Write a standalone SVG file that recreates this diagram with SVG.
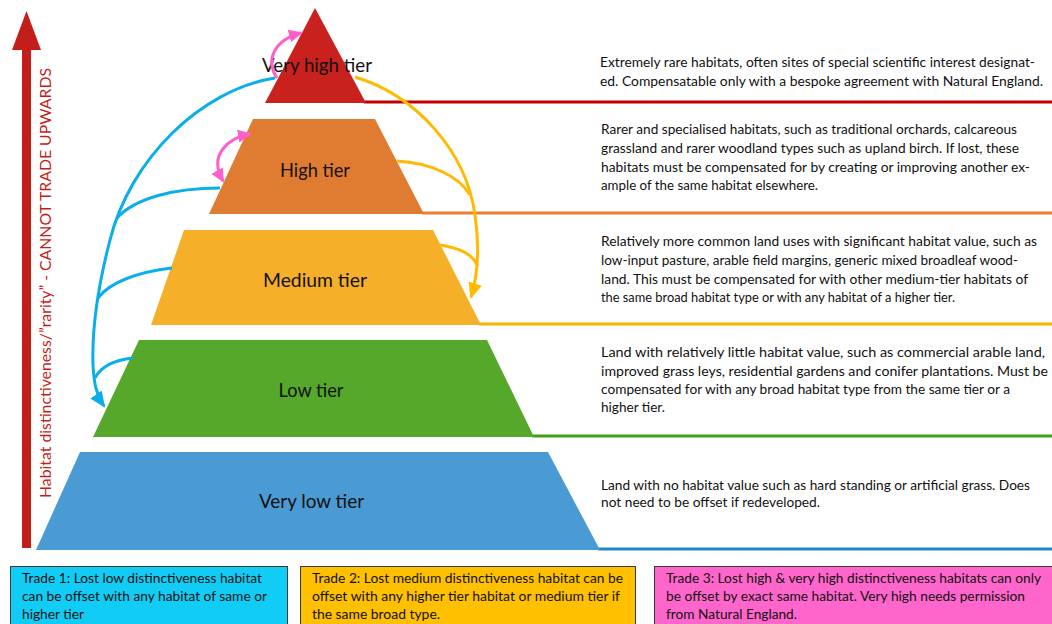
<svg xmlns="http://www.w3.org/2000/svg" width="1052" height="624" viewBox="0 0 1052 624">
<defs>
<style>
.lbl{font-family:Lato,"Open Sans","Liberation Sans",sans-serif;font-size:19px;fill:#111;text-anchor:middle}
.desc{font-family:Lato,"Open Sans","Liberation Sans",sans-serif;font-size:13px;fill:#111}
.trade{font-family:Lato,"Open Sans","Liberation Sans",sans-serif;font-size:13px;fill:#111}
.axis{font-family:Lato,"Open Sans","Liberation Sans",sans-serif;font-size:16px;fill:#C41E1A;text-anchor:middle}
.blue{fill:none;stroke:#0AAEEA;stroke-width:3}
.yel{fill:none;stroke:#FFBA00;stroke-width:3}
.pink{fill:none;stroke:#FF5FCB;stroke-width:3}
.box{stroke:#3a3a3a;stroke-width:1}
</style>
<marker id="hb" viewBox="0 0 16 14" refX="14" refY="7" markerWidth="16" markerHeight="14" markerUnits="userSpaceOnUse" orient="auto"><path d="M0,0 L16,7 L0,14 z" fill="#0AAEEA"/></marker>
<marker id="hy" viewBox="0 0 16 14" refX="14" refY="7" markerWidth="16" markerHeight="14" markerUnits="userSpaceOnUse" orient="auto"><path d="M0,0 L16,7 L0,14 z" fill="#FFBA00"/></marker>
<marker id="hp" viewBox="0 0 14 13" refX="12" refY="6.5" markerWidth="14" markerHeight="13" markerUnits="userSpaceOnUse" orient="auto-start-reverse"><path d="M0,0 L14,6.5 L0,13 z" fill="#FF5FCB"/></marker>
</defs>
<rect width="1052" height="624" fill="#fff"/>

<g id="axis">
<rect x="22" y="46" width="9" height="502" fill="#C41E1A"/>
<path d="M26.5,11 L41,50 L12,50 z" fill="#C41E1A"/>
<text class="axis" transform="translate(51,283) rotate(-90)" textLength="430" lengthAdjust="spacingAndGlyphs">Habitat distinctiveness/”rarity” - CANNOT TRADE UPWARDS</text>
</g>

<g id="tier-lines">
<line x1="364" y1="102" x2="1052" y2="102" stroke="#C00000" stroke-width="3"/>
<line x1="422" y1="213" x2="1052" y2="213" stroke="#ED7D31" stroke-width="3"/>
<line x1="479" y1="324" x2="1052" y2="324" stroke="#FFB000" stroke-width="3"/>
<line x1="532" y1="436" x2="1052" y2="436" stroke="#3FA01A" stroke-width="3"/>
<line x1="598" y1="549" x2="1052" y2="549" stroke="#1E88C8" stroke-width="3"/>
</g>

<g id="tier-very-high">
<path d="M315,8 L366,103 L265,103 z" fill="#C9211E"/>
<text class="lbl" x="317" y="72" textLength="110" lengthAdjust="spacingAndGlyphs">Very high tier</text>
</g>
<g id="tier-high">
<path d="M253,119 L375,119 L424,214 L209,214 z" fill="#E07C31"/>
<text class="lbl" x="315" y="177" textLength="70" lengthAdjust="spacingAndGlyphs">High tier</text>
</g>
<g id="tier-medium">
<path d="M184,230 L433,230 L481,325 L151,325 z" fill="#F5AF29"/>
<text class="lbl" x="315" y="287" textLength="104" lengthAdjust="spacingAndGlyphs">Medium tier</text>
</g>
<g id="tier-low">
<path d="M139,340 L487,340 L534,437 L93,437 z" fill="#55A82A"/>
<text class="lbl" x="311" y="397" textLength="65" lengthAdjust="spacingAndGlyphs">Low tier</text>
</g>
<g id="tier-very-low">
<path d="M80,452 L548,452 L600,550 L36,550 z" fill="#4A9AD4"/>
<text class="lbl" x="311.5" y="508" textLength="105" lengthAdjust="spacingAndGlyphs">Very low tier</text>
</g>

<g id="desc-very-high">
<text class="desc" x="600" y="67" textLength="435" lengthAdjust="spacingAndGlyphs">Extremely rare habitats, often sites of special scientific interest designat-</text>
<text class="desc" x="600" y="86" textLength="443" lengthAdjust="spacingAndGlyphs">ed. Compensatable only with a bespoke agreement with Natural England.</text>
</g>
<g id="desc-high">
<text class="desc" x="601" y="134" textLength="416" lengthAdjust="spacingAndGlyphs">Rarer and specialised habitats, such as traditional orchards, calcareous</text>
<text class="desc" x="601" y="153" textLength="418" lengthAdjust="spacingAndGlyphs">grassland and rarer woodland types such as upland birch. If lost, these</text>
<text class="desc" x="601" y="172" textLength="429" lengthAdjust="spacingAndGlyphs">habitats must be compensated for by creating or improving another ex-</text>
<text class="desc" x="601" y="190" textLength="217" lengthAdjust="spacingAndGlyphs">ample of the same habitat elsewhere.</text>
</g>
<g id="desc-medium">
<text class="desc" x="601" y="246" textLength="436" lengthAdjust="spacingAndGlyphs">Relatively more common land uses with significant habitat value, such as</text>
<text class="desc" x="601" y="265" textLength="417" lengthAdjust="spacingAndGlyphs">low-input pasture, arable field margins, generic mixed broadleaf wood-</text>
<text class="desc" x="601" y="284" textLength="427" lengthAdjust="spacingAndGlyphs">land. This must be compensated for with other medium-tier habitats of</text>
<text class="desc" x="601" y="302" textLength="354" lengthAdjust="spacingAndGlyphs">the same broad habitat type or with any habitat of a higher tier.</text>
</g>
<g id="desc-low">
<text class="desc" x="601" y="357" textLength="444" lengthAdjust="spacingAndGlyphs">Land with relatively little habitat value, such as commercial arable land,</text>
<text class="desc" x="601" y="376" textLength="447" lengthAdjust="spacingAndGlyphs">improved grass leys, residential gardens and conifer plantations. Must be</text>
<text class="desc" x="601" y="394" textLength="409" lengthAdjust="spacingAndGlyphs">compensated for with any broad habitat type from the same tier or a</text>
<text class="desc" x="601" y="412" textLength="64" lengthAdjust="spacingAndGlyphs">higher tier.</text>
</g>
<g id="desc-very-low">
<text class="desc" x="601" y="490" textLength="429" lengthAdjust="spacingAndGlyphs">Land with no habitat value such as hard standing or artificial grass. Does</text>
<text class="desc" x="601" y="507" textLength="219" lengthAdjust="spacingAndGlyphs">not need to be offset if redeveloped.</text>
</g>

<g id="connectors">
<path class="blue" d="M275,78 C200,90 130,160 110,240 C97,290 92,335 93,365 C94,385 97,396 104,406" marker-end="url(#hb)"/>
<path class="blue" d="M220,188 C175,188 135,198 117,218"/>
<path class="blue" d="M172,268 C138,272 110,282 98,298"/>
<path class="blue" d="M133,358 C115,360 101,366 95,378"/>
<path class="yel" d="M355,77 C415,95 466,150 475,215 C480,250 478,275 471,297" marker-end="url(#hy)"/>
<path class="yel" d="M397,161 C430,163 458,175 470,195"/>
<path class="yel" d="M440,245 C458,248 472,253 477,265"/>
<path class="pink" d="M277,78 C265,60 274,40 301,33" marker-end="url(#hp)"/>
<path class="pink" d="M250,134 C228,138 208,155 223,181" marker-start="url(#hp)" marker-end="url(#hp)"/>
</g>

<g id="trade-1">
<rect class="box" x="10.5" y="566.5" width="277" height="70" fill="#11CCF5"/>
<text class="trade" x="22" y="583" textLength="240" lengthAdjust="spacingAndGlyphs">Trade 1: Lost low distinctiveness habitat</text>
<text class="trade" x="22" y="601" textLength="245" lengthAdjust="spacingAndGlyphs">can be offset with any habitat of same or</text>
<text class="trade" x="22" y="619" textLength="62" lengthAdjust="spacingAndGlyphs">higher tier</text>
</g>
<g id="trade-2">
<rect class="box" x="300.5" y="566.5" width="335" height="70" fill="#FFC000"/>
<text class="trade" x="312" y="583" textLength="311" lengthAdjust="spacingAndGlyphs">Trade 2: Lost medium distinctiveness habitat can be</text>
<text class="trade" x="312" y="601" textLength="308" lengthAdjust="spacingAndGlyphs">offset with any higher tier habitat or medium tier if</text>
<text class="trade" x="312" y="619" textLength="128" lengthAdjust="spacingAndGlyphs">the same broad type.</text>
</g>
<g id="trade-3">
<rect class="box" x="654.5" y="566.5" width="410" height="70" fill="#FF66CC"/>
<text class="trade" x="666" y="583" textLength="375" lengthAdjust="spacingAndGlyphs">Trade 3: Lost high &amp; very high distinctiveness habitats can only</text>
<text class="trade" x="666" y="601" textLength="359" lengthAdjust="spacingAndGlyphs">be offset by exact same habitat. Very high needs permission</text>
<text class="trade" x="666" y="619" textLength="131" lengthAdjust="spacingAndGlyphs">from Natural England.</text>
</g>
</svg>
